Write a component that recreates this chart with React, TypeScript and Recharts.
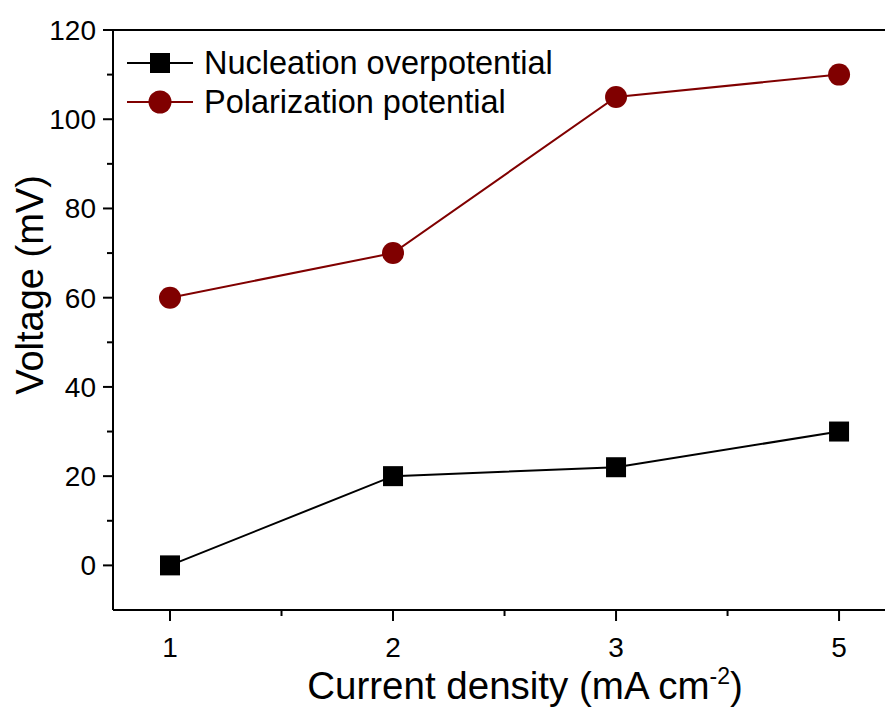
import { LineChart, Line, XAxis, YAxis, ReferenceLine, Label } from 'recharts';

const categories = ['1', '2', '3', '5'];
const nucleation = [0, 20, 22, 30];
const polarization = [60, 70, 105, 110];
const yTicks = [-10, 0, 10, 20, 30, 40, 50, 60, 70, 80, 90, 100, 110, 120];
const xTicks = [0, 0.5, 1, 1.5, 2, 2.5, 3];

const chartData = categories.map((label, i) => ({
  idx: i,
  label,
  nucleation: nucleation[i],
  polarization: polarization[i],
}));

const FONT = '"Liberation Sans", Arial, sans-serif';
const RED = '#800000';

const SquareDot = (props: any) => {
  const { cx, cy } = props;
  if (cx == null || cy == null) return null;
  return <rect x={cx - 10} y={cy - 10} width={20} height={20} fill="#000" />;
};

const CircleDot = (props: any) => {
  const { cx, cy } = props;
  if (cx == null || cy == null) return null;
  return <circle cx={cx} cy={cy} r={11} fill={RED} />;
};

const YTick = (props: any) => {
  const { x, y, payload } = props;
  const v = payload.value;
  if (v < 0) return null;
  const major = v % 20 === 0;
  return (
    <g>
      <line x1={x} x2={x - (major ? 10 : 6)} y1={y} y2={y} stroke="#000" strokeWidth={2} />
      {major && (
        <text x={x - 17} y={y} dy={10} textAnchor="end" fontSize={28} fontFamily={FONT} fill="#000">
          {v}
        </text>
      )}
    </g>
  );
};

const XTick = (props: any) => {
  const { x, y, payload } = props;
  const v = payload.value;
  const major = Number.isInteger(v);
  return (
    <g>
      <line x1={x} x2={x} y1={y} y2={y + (major ? 11 : 6)} stroke="#000" strokeWidth={2} />
      {major && (
        <text x={x} y={y + 47} textAnchor="middle" fontSize={28} fontFamily={FONT} fill="#000">
          {categories[v]}
        </text>
      )}
    </g>
  );
};

// legend sits over the upper-left corner of the plot
const LegendBox = () => (
  <svg
    width={500}
    height={90}
    style={{ position: 'absolute', left: 120, top: 40, display: 'block' }}
  >
    <line x1={7} x2={73} y1={23} y2={23} stroke="#000" strokeWidth={2} />
    <rect x={30} y={13} width={20} height={20} fill="#000" />
    <text x={84} y={34} fontSize={32.5} fontFamily={FONT} fill="#000">Nucleation overpotential</text>
    <line x1={7} x2={73} y1={62} y2={62} stroke={RED} strokeWidth={2} />
    <circle cx={40} cy={62} r={11.5} fill={RED} />
    <text x={84} y={73} fontSize={32.5} fontFamily={FONT} fill="#000">Polarization potential</text>
  </svg>
);

export default function App() {
  return (
    <div style={{ position: 'absolute', left: 0, top: 0, width: 885, height: 707, overflow: 'hidden', background: '#fff' }}>
      <LineChart
        width={885}
        height={707}
        data={chartData}
        margin={{ top: 30, right: 0, bottom: 0, left: 0 }}
      >
        <XAxis
          dataKey="idx"
          type="number"
          domain={[-0.2556, 3.206]}
          allowDataOverflow
          ticks={xTicks}
          interval={0}
          tickSize={0}
          tickMargin={0}
          tick={<XTick />}
          axisLine={{ stroke: '#000', strokeWidth: 2 }}
          height={97}
        >
          <Label
            content={() => (
              <text x={525} y={699} textAnchor="middle" fontSize={38.5} fontFamily={FONT} fill="#000">
                Current density (mA cm
                <tspan dy={-15} fontSize={23}>-2</tspan>
                <tspan dy={15}>)</tspan>
              </text>
            )}
          />
        </XAxis>
        <YAxis
          type="number"
          domain={[-10, 120]}
          ticks={yTicks}
          interval={0}
          tickSize={0}
          tickMargin={0}
          tick={<YTick />}
          axisLine={{ stroke: '#000', strokeWidth: 2 }}
          width={113}
        >
          <Label
            content={() => (
              <text
                x={43}
                y={285}
                transform="rotate(-90 43 285)"
                textAnchor="middle"
                fontSize={38}
                fontFamily={FONT}
                fill="#000"
              >
                Voltage (mV)
              </text>
            )}
          />
        </YAxis>
        <ReferenceLine y={120} stroke="#000" strokeWidth={2} ifOverflow="extendDomain" />
        <Line
          type="linear"
          dataKey="nucleation"
          name="Nucleation overpotential"
          stroke="#000"
          strokeWidth={2}
          dot={<SquareDot />}
          activeDot={false}
          isAnimationActive={false}
        />
        <Line
          type="linear"
          dataKey="polarization"
          name="Polarization potential"
          stroke={RED}
          strokeWidth={2}
          dot={<CircleDot />}
          activeDot={false}
          isAnimationActive={false}
        />
      </LineChart>
      <LegendBox />
    </div>
  );
}
